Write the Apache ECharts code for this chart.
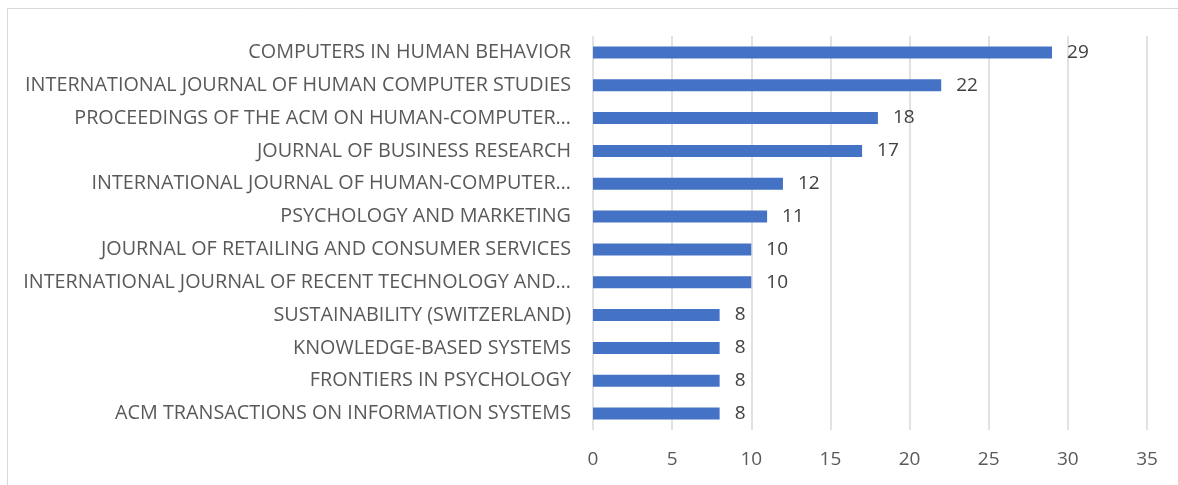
<!DOCTYPE html>
<html>
<head>
<meta charset="utf-8">
<script src="https://cdn.jsdelivr.net/npm/echarts@6/dist/echarts.min.js"></script>
<style>
  html, body { margin: 0; padding: 0; background: #fff; }
  #chart { width: 1178px; height: 485px; }
</style>
</head>
<body>
<div id="chart"></div>
<script>
// journals, top to bottom as shown
const journals = [
  'COMPUTERS IN HUMAN BEHAVIOR',
  'INTERNATIONAL JOURNAL OF HUMAN COMPUTER STUDIES',
  'PROCEEDINGS OF THE ACM ON HUMAN-COMPUTER…',
  'JOURNAL OF BUSINESS RESEARCH',
  'INTERNATIONAL JOURNAL OF HUMAN-COMPUTER…',
  'PSYCHOLOGY AND MARKETING',
  'JOURNAL OF RETAILING AND CONSUMER SERVICES',
  'INTERNATIONAL JOURNAL OF RECENT TECHNOLOGY AND…',
  'SUSTAINABILITY (SWITZERLAND)',
  'KNOWLEDGE-BASED SYSTEMS',
  'FRONTIERS IN PSYCHOLOGY',
  'ACM TRANSACTIONS ON INFORMATION SYSTEMS'
];
const counts = [29, 22, 18, 17, 12, 11, 10, 10, 8, 8, 8, 8];

const chart = echarts.init(document.getElementById('chart'));

const option = {
  backgroundColor: '#fff',
  animation: false,
  graphic: [{
    type: 'rect',
    shape: { x: 7.5, y: 8.5, width: 1200, height: 500 },
    style: { fill: 'none', stroke: '#d9d9d9', lineWidth: 1 },
    silent: true
  }],
  grid: {
    left: 593,
    right: 31,
    top: 36,
    bottom: 55
  },
  xAxis: {
    type: 'value',
    min: 0,
    max: 35,
    interval: 5,
    axisLine: { show: false },
    axisTick: { show: false },
    splitLine: { lineStyle: { color: '#d9d9d9', width: 1.5 } },
    axisLabel: {
      color: '#595959',
      fontFamily: 'Open Sans',
      fontSize: 19,
      margin: 20
    }
  },
  yAxis: {
    type: 'category',
    inverse: true,
    data: journals,
    axisLine: { show: false },
    axisTick: { show: false },
    axisLabel: {
      color: '#595959',
      fontFamily: 'Open Sans',
      fontSize: 19.8,
      margin: 22
    }
  },
  series: [{
    type: 'bar',
    data: counts,
    barWidth: 12,
    itemStyle: { color: '#4472C4' },
    label: {
      show: true,
      position: 'right',
      distance: 15,
      color: '#404040',
      fontFamily: 'Open Sans',
      fontSize: 19
    }
  }]
};

chart.setOption(option);
</script>
</body>
</html>
